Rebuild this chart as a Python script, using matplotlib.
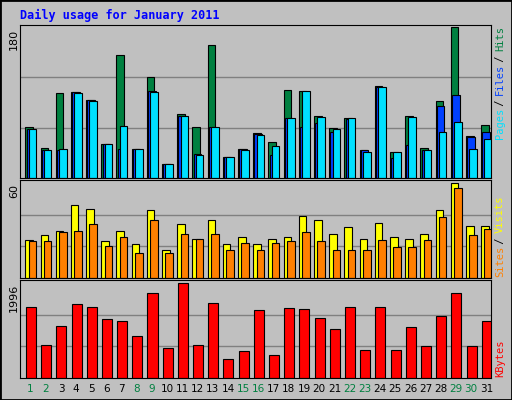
import numpy as np
import matplotlib.pyplot as plt

days = list(range(1, 32))
weekend = [1, 2, 8, 9, 15, 16, 22, 23, 29, 30]
hits = [60.5, 36, 101, 103, 93, 41, 147, 34, 120, 17, 76, 60.5, 159, 25, 35, 54,
        43, 105, 104, 74, 60, 71, 33, 110, 31.5, 74, 36, 92, 180, 50, 63]
files = [58, 33, 33, 102, 93, 41, 34, 34, 104, 17, 74, 29, 60.5, 25, 35, 53,
         28, 72, 61, 66, 55, 70, 33, 109, 24, 39, 33, 85.5, 99, 49, 55]
pages = [58, 33, 34, 101, 92, 41, 62, 34, 103, 17, 74, 28, 60.5, 25, 33, 51,
         38, 72, 104, 73, 58.5, 71, 31.5, 108, 31.5, 73, 33, 55, 67, 34, 46]
sites = [24, 27, 30, 46, 44, 23.5, 30, 21.5, 43, 17.5, 34.5, 25, 36.5, 21.5, 26, 21.5,
         25, 26, 39, 37, 28, 32.5, 25, 35, 26, 25, 28, 43, 60, 33, 33]
visits = [23.5, 23.5, 29, 30, 34.5, 20, 26, 16, 36.5, 16, 28, 25, 28, 18, 22, 17.5,
          22, 23.5, 29, 23.5, 18, 18, 17.5, 24, 19.5, 19.5, 24, 38.5, 57, 27, 31]
kbytes = [1493, 685, 1100, 1559, 1493, 1231, 1187, 881, 1777, 619, 1996, 685, 1581, 401,
          575, 1428, 488, 1471, 1450, 1253, 1034, 1493, 597, 1493, 597, 1078, 663, 1297,
          1777, 663, 1187]

bg = '#C0C0C0'
fig = plt.figure(figsize=(5.12, 4.0), dpi=100, facecolor=bg)
W, H = 512, 400

def ax_at(x0, y0, x1, y1):
    a = fig.add_axes([x0 / W, 1 - y1 / H, (x1 - x0) / W, (y1 - y0) / H])
    a.set_facecolor(bg)
    a.set_xlim(0.5, 31.5)
    a.set_xticks([])
    a.set_yticks([])
    for s in a.spines.values():
        s.set_color('black')
    return a

x = np.array(days) + 0.2
ek = dict(edgecolor='black', linewidth=0.8)

# top panel
a1 = ax_at(20, 25, 491, 178)
a1.set_ylim(0, 180 * 1.013)
for g in (60, 120):
    a1.axhline(g, color='#808080', lw=1, zorder=0)
a1.bar(x - 0.1, hits, width=0.5, color='#008040', **ek)
a1.bar(x - 0.02, files, width=0.5, color='#0040FF', **ek)
a1.bar(x + 0.12, pages, width=0.5, color='#00E0FF', **ek)
fig.text(14 / W, 1 - 29 / H, '180', rotation=90, ha='center', va='top', fontsize=8)

# middle panel
a2 = ax_at(20, 180, 491, 278)
a2.set_ylim(0, 60 * 1.035)
for g in (20, 40):
    a2.axhline(g, color='#808080', lw=1, zorder=0)
a2.bar(x - 0.1, sites, width=0.5, color='#FFFF00', **ek)
a2.bar(x + 0.12, visits, width=0.5, color='#FF8000', **ek)
fig.text(14 / W, 1 - 184 / H, '60', rotation=90, ha='center', va='top', fontsize=8)

# bottom panel
a3 = ax_at(20, 280, 491, 378)
a3.set_ylim(0, 1996 * 1.03)
for g in (665, 1331):
    a3.axhline(g, color='#808080', lw=1, zorder=0)
a3.bar(x + 0.02, kbytes, width=0.66, color='#FF0000', **ek)
fig.text(14 / W, 1 - 284 / H, '1996', rotation=90, ha='center', va='top', fontsize=8)

# day labels
for d in days:
    xp = 20 + (d - 0.5) / 31 * 471 + 3
    fig.text(xp / W, 1 - 389 / H, str(d), ha='center', va='center', fontsize=7.5,
             color='#008040' if d in weekend else 'black')

fig.text(20 / W, 1 - 15 / H, 'Daily usage for January 2011', color='#0000FF',
         family='DejaVu Sans Mono', weight='bold', fontsize=8.5, va='center')

step = 5.5
mono = dict(family='DejaVu Sans Mono', fontsize=7.5, rotation=90, ha='center', va='bottom')
def side(parts, ybot, xp=500):
    y = ybot
    for txt, col in parts:
        fig.text(xp / W, 1 - y / H, txt, color=col, **mono)
        y -= len(txt) * step
side([('Pages', '#00E0FF'), (' / ', '#000000'), ('Files', '#0040FF'),
      (' / ', '#000000'), ('Hits', '#008040')], 139)
side([('Sites', '#FF8000'), (' / ', '#000000'), ('Visits', '#FFFF00')], 277)
side([('KBytes', '#FF0000')], 377)

fig.patches.append(plt.Rectangle((0, 0), 1, 1, transform=fig.transFigure,
                                 fill=False, edgecolor='black', lw=2))
fig.savefig('out.png', dpi=100, facecolor=bg)
